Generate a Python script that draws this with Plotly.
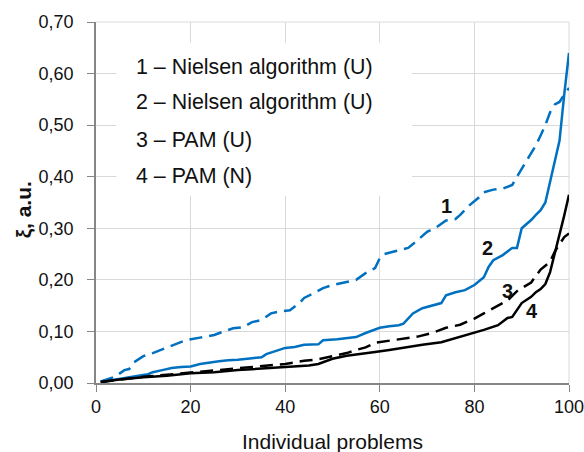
import plotly.graph_objects as go

# Series 1 – Nielsen algorithm (U), dashed blue
x1 = [1, 4, 6, 7, 8, 10, 12, 14, 16, 18, 19, 22, 25, 27, 29, 31, 33, 35, 37, 39, 41, 43, 44, 46, 48, 50,
      52, 54, 55, 57, 59, 60, 61, 63, 66, 68, 70, 72, 74, 76, 77, 79, 81, 82, 84, 86, 88, 89, 91, 93, 94,
      95, 96, 97, 98, 99, 100]
y1 = [0.003, 0.012, 0.025, 0.027, 0.040, 0.052, 0.058, 0.065, 0.072, 0.078, 0.083, 0.088, 0.093, 0.100,
      0.106, 0.108, 0.118, 0.122, 0.135, 0.139, 0.141, 0.155, 0.165, 0.174, 0.184, 0.190, 0.194, 0.197,
      0.200, 0.213, 0.223, 0.242, 0.250, 0.255, 0.262, 0.277, 0.293, 0.302, 0.315, 0.318, 0.326, 0.345,
      0.360, 0.370, 0.375, 0.377, 0.384, 0.400, 0.430, 0.461, 0.480, 0.500, 0.525, 0.540, 0.545, 0.560,
      0.572]

# Series 2 – Nielsen algorithm (U), solid blue
x2 = [1, 4, 6, 9, 11, 12, 14, 16, 18, 20, 22, 24, 26, 28, 30, 33, 35, 36, 38, 40, 42, 44, 47, 48, 51, 53,
      55, 57, 59, 60, 62, 64, 65, 67, 69, 71, 73, 74, 76, 78, 80, 82, 83, 84, 86, 88, 89, 90, 92, 93, 94,
      95, 96, 97, 98, 99, 100]
y2 = [0.002, 0.007, 0.010, 0.014, 0.017, 0.021, 0.025, 0.029, 0.031, 0.032, 0.037, 0.040, 0.042, 0.044,
      0.045, 0.048, 0.050, 0.056, 0.062, 0.068, 0.070, 0.074, 0.075, 0.083, 0.085, 0.087, 0.089, 0.097,
      0.103, 0.107, 0.110, 0.112, 0.115, 0.135, 0.145, 0.150, 0.155, 0.170, 0.176, 0.180, 0.190, 0.205,
      0.225, 0.238, 0.248, 0.262, 0.262, 0.300, 0.316, 0.326, 0.335, 0.350, 0.390, 0.430, 0.470, 0.560,
      0.640]

# Series 3 – PAM (U), dashed black
x3 = [1, 5, 10, 15, 20, 25, 30, 35, 40, 44, 47, 50, 53, 55, 57, 59, 62, 65, 68, 71, 74, 77, 80, 82, 85,
      87, 89, 92, 94, 96, 97, 98, 99, 100]
y3 = [0.002, 0.007, 0.012, 0.016, 0.020, 0.024, 0.028, 0.033, 0.037, 0.043, 0.046, 0.052, 0.058, 0.064,
      0.069, 0.078, 0.082, 0.086, 0.090, 0.097, 0.107, 0.113, 0.125, 0.135, 0.150, 0.160, 0.178, 0.195,
      0.220, 0.235, 0.255, 0.270, 0.283, 0.290]

# Series 4 – PAM (N), solid black
x4 = [1, 5, 10, 15, 20, 25, 30, 35, 40, 45, 47, 50, 53, 56, 59, 62, 66, 69, 73, 76, 80, 82, 85, 87, 88,
      89, 90, 92, 93, 94, 95, 96, 97, 98, 99, 100]
y4 = [0.002, 0.007, 0.011, 0.014, 0.019, 0.021, 0.025, 0.028, 0.032, 0.034, 0.037, 0.047, 0.053, 0.056,
      0.060, 0.064, 0.070, 0.074, 0.079, 0.087, 0.097, 0.103, 0.112, 0.126, 0.128, 0.141, 0.155, 0.167,
      0.176, 0.182, 0.192, 0.215, 0.250, 0.290, 0.325, 0.365]

x_ticks = [0, 20, 40, 60, 80, 100]
y_ticks = [0.0, 0.1, 0.2, 0.3, 0.4, 0.5, 0.6, 0.7]

legend_lines = ["1 – Nielsen algorithm (U)", "2 – Nielsen algorithm (U)", "3 – PAM (U)", "4 – PAM (N)"]
curve_labels = ["1", "2", "3", "4"]
x_title = "Individual problems"
y_title = "ξ, a.u."

BLUE = "#0070C0"
BLACK = "#000000"
FONT = "Liberation Sans, Arial, sans-serif"

fig = go.Figure()
fig.add_trace(go.Scatter(x=x1, y=y1, mode="lines", line=dict(color=BLUE, width=2.5, dash="13px,7px")))
fig.add_trace(go.Scatter(x=x2, y=y2, mode="lines", line=dict(color=BLUE, width=2.5)))
fig.add_trace(go.Scatter(x=x3, y=y3, mode="lines", line=dict(color=BLACK, width=2.5, dash="13px,7px")))
fig.add_trace(go.Scatter(x=x4, y=y4, mode="lines", line=dict(color=BLACK, width=2.5)))

# white box behind the text legend
fig.add_shape(type="rect", xref="x", yref="y", x0=4.3, x1=66.8, y0=0.363, y1=0.66,
              fillcolor="white", line=dict(width=0), layer="above")

legend_y = [0.612, 0.545, 0.471, 0.401]
for txt, yy in zip(legend_lines, legend_y):
    fig.add_annotation(x=8.1, y=yy, xref="x", yref="y", text=txt, showarrow=False,
                       xanchor="left", yanchor="middle", font=dict(family=FONT, size=21.4, color="#111111"))

label_pos = [(74.0, 0.343), (82.7, 0.262), (87.1, 0.178), (92.2, 0.140)]
for txt, (xx, yy) in zip(curve_labels, label_pos):
    fig.add_annotation(x=xx, y=yy, xref="x", yref="y", text="<b>" + txt + "</b>", showarrow=False,
                       xanchor="center", yanchor="middle", font=dict(family=FONT, size=20, color="#111111"))

fig.add_annotation(x=-0.153, y=0.48, xref="paper", yref="paper", text="<b>" + y_title + "</b>",
                   showarrow=False, textangle=-90, xanchor="center", yanchor="middle",
                   font=dict(family=FONT, size=21, color="#111111"))
fig.add_annotation(x=0.5, y=-0.1607, xref="paper", yref="paper", text=x_title, showarrow=False,
                   xanchor="center", yanchor="middle", font=dict(family=FONT, size=21, color="#111111"))

fig.update_layout(
    width=584, height=452,
    margin=dict(l=95.5, r=15, t=22, b=69, autoexpand=False),
    paper_bgcolor="white", plot_bgcolor="white",
    showlegend=False,
    separators=", ",
    font=dict(family=FONT, size=18, color="#111111"),
)
fig.update_xaxes(range=[0, 100], tickvals=x_ticks, showgrid=True, gridcolor="#D9D9D9", gridwidth=1,
                 showline=True, linecolor="#868686", linewidth=1.5, ticks="outside", ticklen=7,
                 tickcolor="#868686", zeroline=False, automargin=False, ticklabeloverflow="allow",
                 tickfont=dict(size=18))
fig.update_yaxes(range=[0, 0.7], tickvals=y_ticks, tickformat=".2f", showgrid=True, gridcolor="#D9D9D9",
                 gridwidth=1, showline=True, linecolor="#868686", linewidth=1.5, ticks="outside", ticklen=7,
                 tickcolor="#868686", zeroline=False, automargin=False, tickfont=dict(size=18),
                 ticklabelstandoff=10)
# top/right boundary gridlines
fig.add_shape(type="line", xref="paper", yref="paper", x0=0, x1=1, y0=1, y1=1,
              line=dict(color="#D9D9D9", width=1), layer="below")
fig.add_shape(type="line", xref="paper", yref="paper", x0=1, x1=1, y0=0, y1=1,
              line=dict(color="#D9D9D9", width=1), layer="below")

fig.write_html("out.html")
